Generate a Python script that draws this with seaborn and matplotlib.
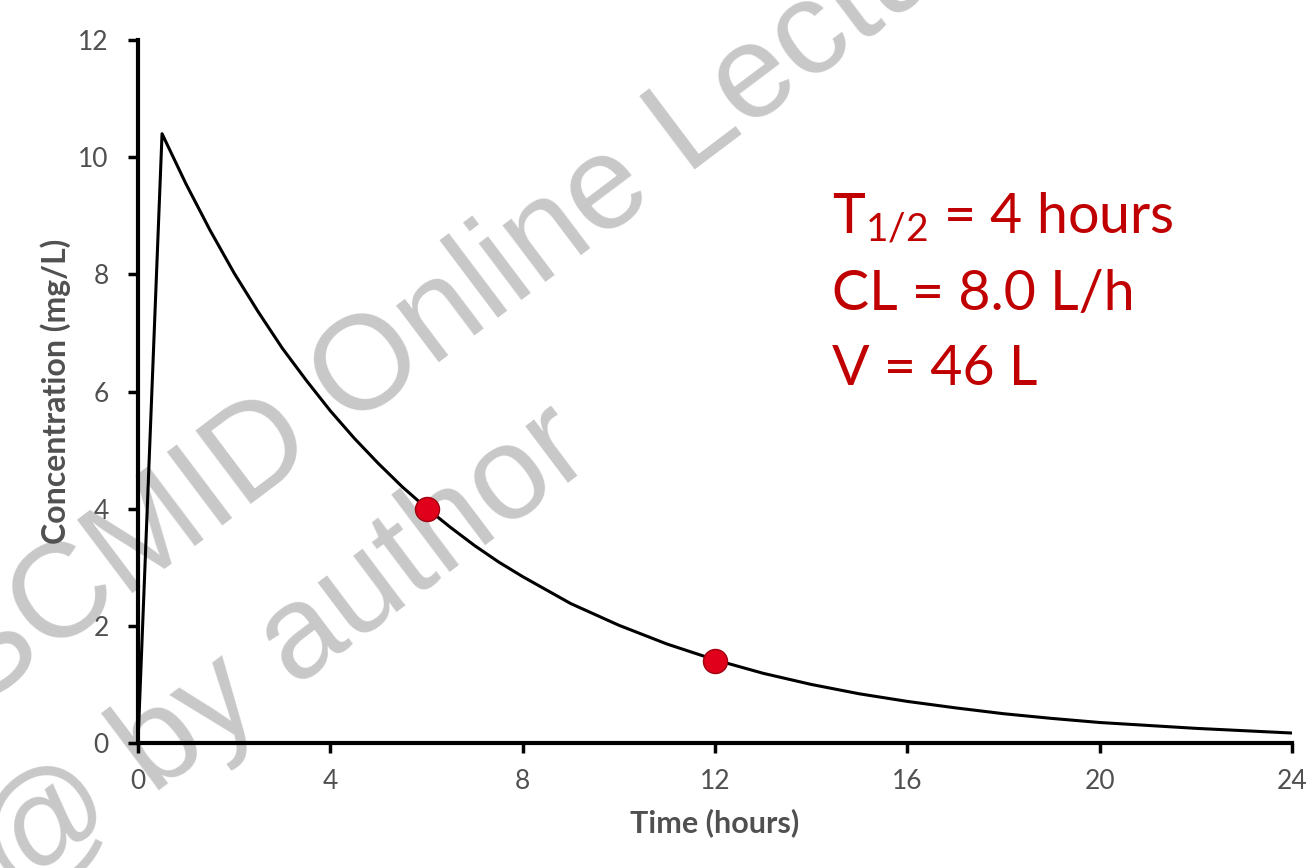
import matplotlib
matplotlib.use("Agg")
import matplotlib.pyplot as plt
import seaborn as sns
import pandas as pd

# ---- data ----
time_h = [0, 0.5, 1, 1.5, 2, 2.5, 3, 3.5, 4, 4.5, 5, 5.5, 6, 6.5, 7, 7.5, 8,
          9, 10, 11, 12, 13, 14, 15, 16, 17, 18, 19, 20, 21, 22, 23, 24]
conc_mg_l = [0.0, 10.4, 9.54, 8.75, 8.02, 7.36, 6.74, 6.19, 5.67, 5.20, 4.77,
             4.37, 4.01, 3.68, 3.37, 3.09, 2.84, 2.38, 2.01, 1.69, 1.42, 1.19,
             1.00, 0.84, 0.71, 0.60, 0.50, 0.42, 0.35, 0.30, 0.25, 0.21, 0.17]
sample_time = [6, 12]
sample_conc = [4.0, 1.4]
x_ticks = [0, 4, 8, 12, 16, 20, 24]
y_ticks = [0, 2, 4, 6, 8, 10, 12]
param_lines = ["T$_{\\mathrm{1/2}}$ = 4 hours", "CL = 8.0 L/h", "V = 46 L"]
param_y = [8.71, 7.39, 6.11]
watermark = ["ESCMID Online Lecture Library", "@ by author"]

sns.set_theme(style="white")
plt.rcParams["font.family"] = ["Lato", "DejaVu Sans"]
plt.rcParams["mathtext.fontset"] = "custom"
plt.rcParams["mathtext.rm"] = "Lato"
plt.rcParams["mathtext.it"] = "Lato:italic"

W, H = 1313, 868
fig = plt.figure(figsize=(W / 100, H / 100), dpi=100)
fig.patch.set_facecolor("white")
ax = fig.add_axes([138 / W, 1 - 743 / H, (1292 - 138) / W, (743 - 40) / H])
ax.set_facecolor("none")

# watermark (behind the axes content)
wm_kw = dict(fontsize=96, color="#c8c8c8", rotation=37, rotation_mode="anchor",
             ha="left", va="baseline", family="Liberation Sans", zorder=-5)
fig.text(-95 / W, 1 - 765 / H, watermark[0], **wm_kw)
fig.text(15 / W, 1 - 900 / H, watermark[1], **wm_kw)

df = pd.DataFrame({"t": time_h, "c": conc_mg_l})
sns.lineplot(data=df, x="t", y="c", color="black", linewidth=2.2, ax=ax,
             zorder=3, sort=False)
sdf = pd.DataFrame({"t": sample_time, "c": sample_conc})
sns.scatterplot(data=sdf, x="t", y="c", color="#e0001b", edgecolor="#a00010",
                linewidth=1.0, s=300, ax=ax, zorder=4)

ax.set_xlim(0, 24)
ax.set_ylim(0, 12)
ax.set_xticks(x_ticks)
ax.set_yticks(y_ticks)
for s in ["top", "right"]:
    ax.spines[s].set_visible(False)
for s in ["left", "bottom"]:
    ax.spines[s].set_linewidth(3)
    ax.spines[s].set_color("black")
ax.tick_params(axis="both", direction="out", length=7, width=2.5,
               bottom=True, left=True,
               color="black", labelsize=19, labelcolor="#505050", pad=12)
ax.tick_params(axis="y", pad=14)

ax.set_xlabel("Time (hours)", fontsize=22, color="#505050",
              fontweight="bold", labelpad=10)
ax.set_ylabel("Concentration (mg/L)", fontsize=23, color="#505050",
              fontweight="bold", labelpad=5)

for txt, yv in zip(param_lines, param_y):
    ax.text(14.43, yv, txt, color="#c00000", fontsize=40, ha="left",
            va="baseline", zorder=5)

fig.savefig("out.png", dpi=100)
